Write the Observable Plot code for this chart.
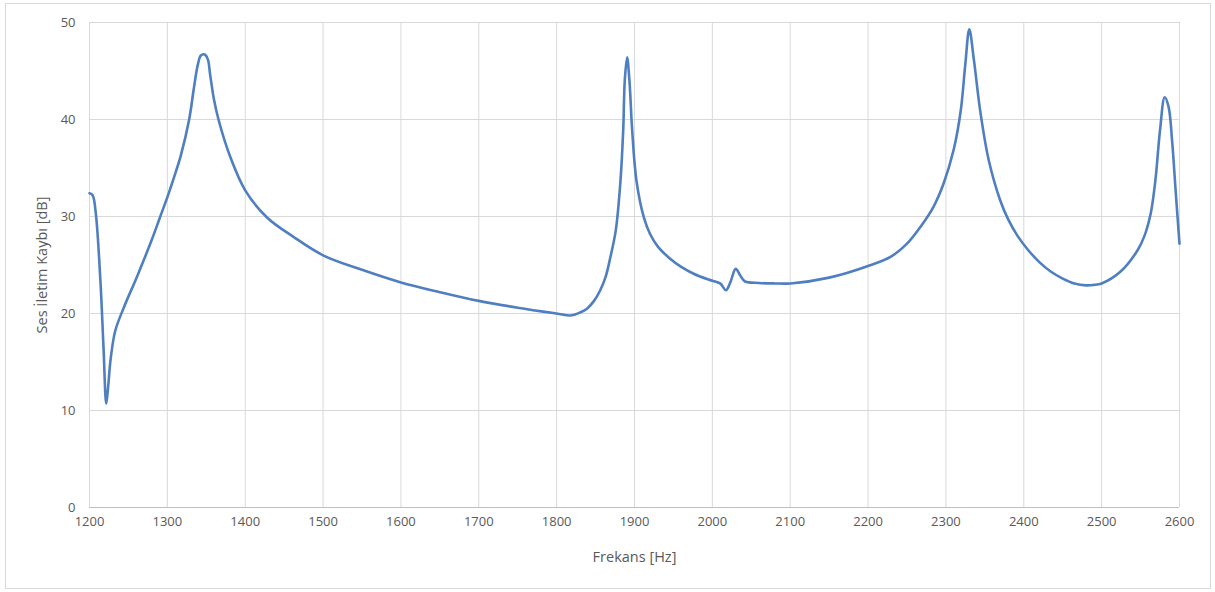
<!DOCTYPE html>
<html>
<head>
<meta charset="utf-8">
<script src="https://cdn.jsdelivr.net/npm/d3@7"></script>
<script src="https://cdn.jsdelivr.net/npm/@observablehq/plot@0.6"></script>
<style>
  html, body { margin: 0; padding: 0; background: #fff; }
  #wrap { position: relative; width: 1215px; height: 592px; overflow: hidden; }
  #frame { position: absolute; left: 5px; top: 3px; width: 1206px; height: 586px; border: 1px solid #d9d9d9; box-sizing: border-box; }
  #chart { position: absolute; left: 0; top: 0; }
</style>
</head>
<body>
<div id="wrap"><div id="frame"></div><div id="chart"></div></div>
<script>
// Frequency [Hz]
const freq = [1200, 1204, 1208, 1214, 1218, 1221.5, 1224, 1227, 1233, 1244, 1261, 1280, 1290, 1300, 1310, 1317, 1328, 1334, 1339, 1343, 1348, 1352, 1355, 1360, 1366, 1381, 1400, 1428, 1462, 1500, 1550, 1600, 1650, 1700, 1750, 1800, 1818, 1830, 1839, 1848, 1856, 1863, 1869, 1876, 1882, 1885.5, 1887.5, 1890.5, 1893.5, 1897, 1902.5, 1912, 1920, 1930, 1945, 1960, 1976, 1995, 2010, 2017.5, 2023, 2030, 2036, 2042, 2060, 2080, 2100, 2150, 2200, 2230, 2250, 2267, 2284, 2297, 2310, 2319, 2325, 2330, 2336, 2344, 2355, 2370, 2380, 2392, 2405, 2420, 2435, 2450, 2465, 2480, 2490, 2500, 2524, 2546, 2555, 2563, 2569, 2575, 2581, 2586, 2590.5, 2595, 2600];
// Transmission loss [dB]
const loss = [32.4, 32.2, 30.4, 23.4, 16.5, 10.7, 12.5, 15.2, 18.2, 20.6, 23.8, 27.6, 29.8, 32.0, 34.4, 36.2, 40.0, 43.2, 45.6, 46.6, 46.7, 46.2, 44.6, 42.0, 39.9, 36.1, 32.7, 29.9, 27.9, 26.0, 24.5, 23.2, 22.2, 21.3, 20.6, 20.0, 19.8, 20.1, 20.5, 21.3, 22.4, 23.8, 25.8, 28.6, 33.7, 38.9, 44.0, 46.4, 44.0, 38.9, 33.7, 29.9, 28.2, 26.9, 25.7, 24.8, 24.1, 23.5, 23.1, 22.4, 23.2, 24.6, 23.9, 23.3, 23.15, 23.1, 23.1, 23.7, 24.9, 25.9, 27.2, 28.9, 31.0, 33.4, 36.9, 40.9, 45.8, 49.3, 46.1, 40.9, 35.8, 31.6, 29.7, 28.0, 26.6, 25.3, 24.3, 23.6, 23.1, 22.9, 22.95, 23.1, 24.3, 26.5, 28.0, 30.3, 33.7, 38.9, 42.3, 41.3, 37.8, 32.7, 27.2];
const xTicks = [1200, 1300, 1400, 1500, 1600, 1700, 1800, 1900, 2000, 2100, 2200, 2300, 2400, 2500, 2600];
const yTicks = [0, 10, 20, 30, 40, 50];

const data = freq.map((f, i) => ({f, v: loss[i]}));

const chart = Plot.plot({
  width: 1215,
  height: 592,
  marginLeft: 89,
  marginRight: 36,
  marginTop: 22,
  marginBottom: 85,
  style: {fontFamily: "'Open Sans', sans-serif", fontSize: "13px", color: "#595959", background: "transparent"},
  x: {domain: [1200, 2600], ticks: xTicks, tickSize: 0, label: null},
  y: {domain: [0, 50], ticks: yTicks, tickSize: 0, label: null},
  marks: [
    Plot.gridX(xTicks, {stroke: "#d9d9d9", strokeOpacity: 1, strokeWidth: 1}),
    Plot.gridY(yTicks, {stroke: "#d9d9d9", strokeOpacity: 1, strokeWidth: 1}),
    Plot.ruleY([0], {stroke: "#bfbfbf", strokeWidth: 1}),
    Plot.axisX({ticks: xTicks, tickSize: 0, tickPadding: 9, tickFormat: d3.format("d"), fill: "#595959", fontSize: 13, label: null}),
    Plot.axisY({ticks: yTicks, tickSize: 0, tickPadding: 14, tickFormat: d3.format("d"), fill: "#595959", fontSize: 13, label: null}),
    Plot.line(data, {x: "f", y: "v", stroke: "#4f7fc0", strokeWidth: 2.6, curve: "catmull-rom", strokeLinejoin: "round"}),
    Plot.text(["Frekans [Hz]"], {frameAnchor: "bottom", lineAnchor: "middle", dy: 50, fill: "#595959", fontSize: 14.5}),
    Plot.text(["Ses İletim Kaybı [dB]"], {frameAnchor: "left", textAnchor: "middle", lineAnchor: "middle", dx: -47, rotate: -90, fill: "#595959", fontSize: 14.5})
  ]
});
document.getElementById("chart").appendChild(chart);
</script>
</body>
</html>
